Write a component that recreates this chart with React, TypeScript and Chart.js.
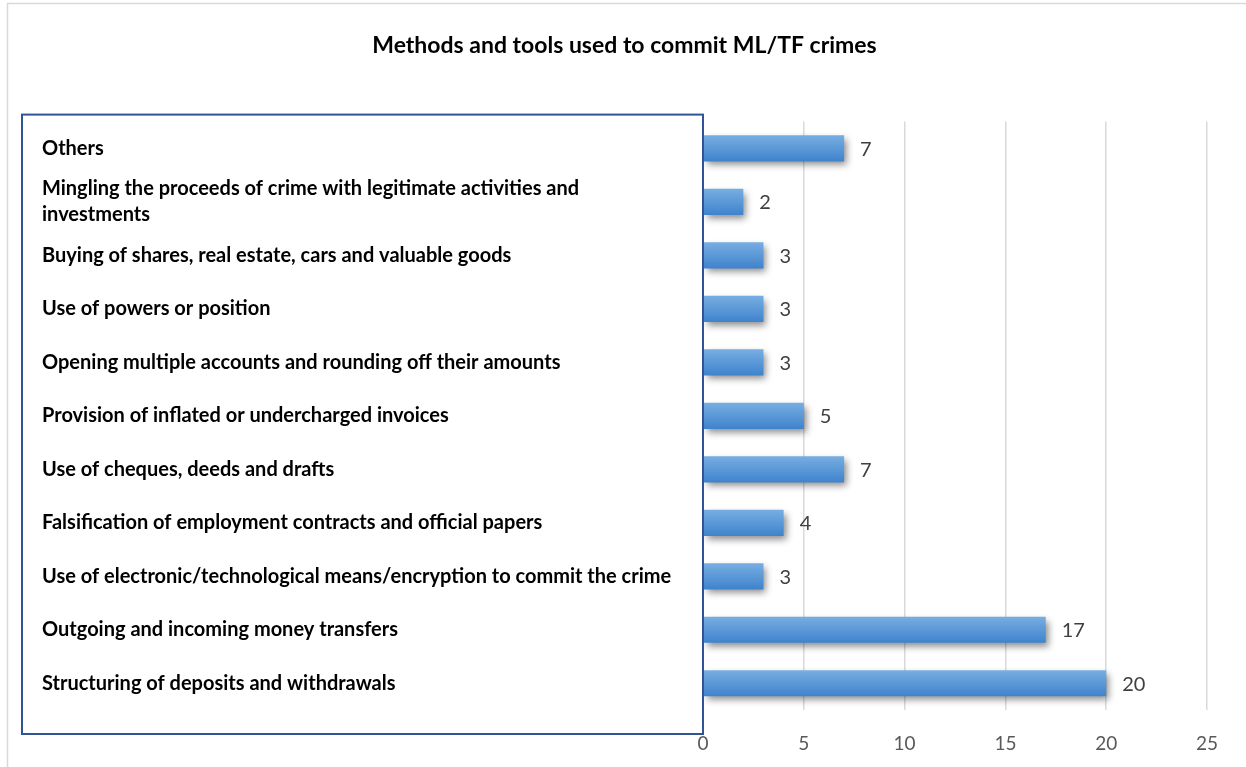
import React, { useEffect, useRef } from "react";
import { Chart, registerables } from "chart.js";

Chart.register(...registerables);

const categories: (string | string[])[] = [
  "Others",
  ["Mingling the proceeds of crime with legitimate activities and", "investments"],
  "Buying of shares, real estate, cars and valuable goods",
  "Use of powers or position",
  "Opening multiple accounts and rounding off their amounts",
  "Provision of inflated or undercharged invoices",
  "Use of cheques, deeds and drafts",
  "Falsification of employment contracts and official papers",
  "Use of electronic/technological means/encryption to commit the crime",
  "Outgoing and incoming money transfers",
  "Structuring of deposits and withdrawals",
];

const counts: number[] = [7, 2, 3, 3, 3, 5, 7, 4, 3, 17, 20];

const xTicks = { min: 0, max: 25, step: 5 };

const TITLE = "Methods and tools used to commit ML/TF crimes";
const LABEL_FONT = "Lato";
const W = 1246;
const H = 767;

const framePlugin = {
  id: "frame",
  beforeDraw(chart: any) {
    const ctx = chart.ctx;
    ctx.save();
    ctx.fillStyle = "#ffffff";
    ctx.fillRect(0, 0, chart.width, chart.height);
    ctx.strokeStyle = "#d9d9d9";
    ctx.lineWidth = 1.5;
    ctx.strokeRect(7.5, 3.5, chart.width + 20, chart.height + 20);
    ctx.restore();
  },
  afterDraw(chart: any) {
    const ctx = chart.ctx;
    const area = chart.chartArea;
    ctx.save();
    ctx.strokeStyle = "#2f5597";
    ctx.lineWidth = 2;
    const left = 22;
    const top = area.top - 7;
    const right = area.left;
    const bottom = area.bottom + 24;
    ctx.strokeRect(left, top, right - left, bottom - top);
    ctx.restore();
  },
};

const shadowPlugin = {
  id: "barShadow",
  beforeDatasetsDraw(chart: any) {
    const ctx = chart.ctx;
    ctx.save();
    ctx.shadowColor = "rgba(0,0,0,0.45)";
    ctx.shadowBlur = 7;
    ctx.shadowOffsetX = 3;
    ctx.shadowOffsetY = 4;
  },
  afterDatasetsDraw(chart: any) {
    const ctx = chart.ctx;
    ctx.restore();
    const meta = chart.getDatasetMeta(0);
    ctx.save();
    ctx.fillStyle = "#404040";
    ctx.font = `20px ${LABEL_FONT}`;
    ctx.textAlign = "left";
    ctx.textBaseline = "middle";
    meta.data.forEach((bar: any, i: number) => {
      const v = chart.data.datasets[0].data[i];
      ctx.fillText(String(v), bar.x + 16, bar.y + 1);
    });
    ctx.restore();
  },
};

export default function App() {
  const ref = useRef<HTMLCanvasElement | null>(null);

  useEffect(() => {
    document.body.style.margin = "0";
    const canvas = ref.current;
    if (!canvas) return;
    const chart = new Chart(canvas, {
      type: "bar",
      data: {
        labels: categories,
        datasets: [
          {
            data: counts,
            backgroundColor: (c: any) => {
              const ch = c.chart;
              const yScale = ch.scales && ch.scales.y;
              if (!ch.chartArea || !yScale || c.dataIndex === undefined) {
                return "#5b9bd5";
              }
              const cy = yScale.getPixelForValue(c.dataIndex);
              const half = (yScale.height / categories.length) * 0.49 / 2;
              if (!isFinite(cy) || !isFinite(half)) return "#5b9bd5";
              const g = ch.ctx.createLinearGradient(0, cy - half, 0, cy + half);
              g.addColorStop(0, "#78aee2");
              g.addColorStop(1, "#3f83cc");
              return g;
            },
            borderWidth: 0,
            barPercentage: 0.49,
            categoryPercentage: 1,
          },
        ],
      },
      options: {
        indexAxis: "y",
        responsive: false,
        maintainAspectRatio: false,
        animation: false,
        layout: { padding: { left: 42, right: 39, top: 0, bottom: 0 } },
        plugins: {
          legend: { display: false },
          tooltip: { enabled: false },
          title: {
            display: true,
            text: TITLE,
            color: "#000000",
            font: { family: LABEL_FONT, size: 23, weight: "bold", lineHeight: 1.2 },
            padding: { top: 32, bottom: 62 },
          },
        },
        scales: {
          x: {
            min: xTicks.min,
            max: xTicks.max,
            afterFit: (axis: any) => {
              axis.height = 57;
            },
            ticks: {
              stepSize: xTicks.step,
              color: "#595959",
              font: { family: LABEL_FONT, size: 19 },
              padding: 22,
            },
            grid: { color: "#d9d9d9", lineWidth: 1.5, drawTicks: false },
            border: { display: false },
          },
          y: {
            afterFit: (axis: any) => {
              axis.width = 661;
            },
            ticks: {
              autoSkip: false,
              crossAlign: "far",
              color: "#000000",
              font: { family: LABEL_FONT, size: 20, weight: "bold", lineHeight: 1.3 },
            },
            grid: { display: false },
            border: { display: false },
          },
        },
      },
      plugins: [framePlugin, shadowPlugin],
    } as any);
    return () => chart.destroy();
  }, []);

  return (
    <div style={{ width: W, height: H, overflow: "hidden" }}>
      <canvas ref={ref} width={W} height={H} style={{ display: "block" }} />
    </div>
  );
}
